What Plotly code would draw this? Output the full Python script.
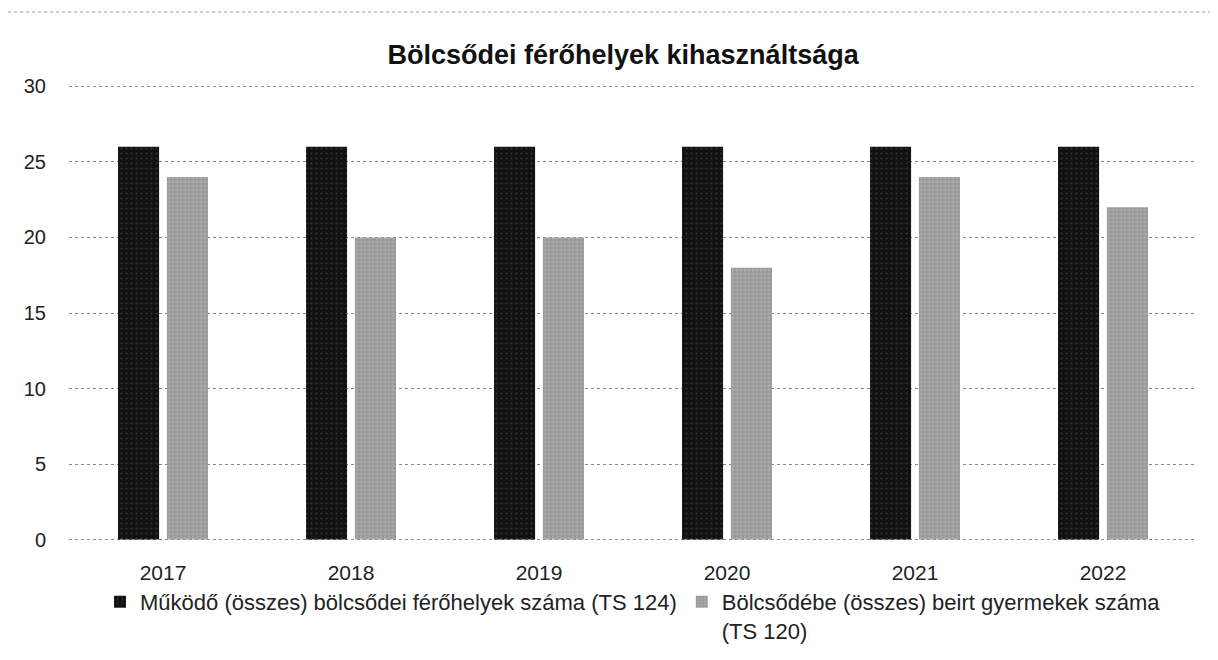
import plotly.graph_objects as go

years = ["2017", "2018", "2019", "2020", "2021", "2022"]
ferohely = [26, 26, 26, 26, 26, 26]
beirt = [24, 20, 20, 18, 24, 22]
name1 = "Működő (összes) bölcsődei férőhelyek száma (TS 124)"
name2 = "Bölcsődébe (összes) beirt gyermekek száma<br>(TS 120)"
title = "Bölcsődei férőhelyek kihasználtsága"
yticks = [0, 5, 10, 15, 20, 25, 30]

FONT = "Liberation Sans"

fig = go.Figure()
fig.add_trace(go.Bar(x=years, y=ferohely, name=name1,
                     marker=dict(color="#151515", line=dict(width=0),
                                 pattern=dict(shape=".", fgcolor="#555555", bgcolor="#111111", size=5, solidity=0.15))))
fig.add_trace(go.Bar(x=years, y=beirt, name=name2,
                     marker=dict(color="#959595", line=dict(width=0),
                                 pattern=dict(shape="+", fgcolor="#6e6e6e", bgcolor="#aaaaaa", size=4, solidity=0.35))))

edge_lines = [
    dict(type="line", xref="paper", yref="y", x0=0, x1=1, y0=v, y1=v, layer="below",
         line=dict(color="#888888", width=1, dash="dot"))
    for v in (yticks[0], yticks[-1])
]

fig.update_layout(
    width=1218, height=660,
    paper_bgcolor="white", plot_bgcolor="white",
    barmode="group", bargap=0.48, bargroupgap=0.16,
    margin=dict(l=61, r=29, t=78, b=128),
    title=dict(text="<b>" + title + "</b>", x=0.505, xanchor="center", y=0.929, yanchor="middle",
               font=dict(family=FONT, size=27, color="#111111")),
    font=dict(family=FONT, size=21, color="#222222"),
    showlegend=True,
    legend=dict(orientation="h", x=0.5, xanchor="center", y=-0.09, yanchor="top",
                font=dict(size=22, color="#222222"), itemwidth=30, traceorder="normal",
                valign="top"),
    shapes=[
        dict(type="line", xref="paper", yref="paper", x0=-0.054, x1=1.019, y0=1.163, y1=1.163,
             line=dict(color="#999999", width=1, dash="dot")),
    ] + edge_lines,
)
fig.update_yaxes(range=[-0.03, 30.03], tickvals=yticks, showgrid=True, gridcolor="#888888",
                 griddash="dot", gridwidth=1, zeroline=False, showline=False,
                 ticks="", ticklabelstandoff=22, tickfont=dict(size=20, color="#222222"))
fig.update_xaxes(showline=False, ticks="",
                 ticklabelstandoff=18, tickfont=dict(size=21, color="#222222"))

fig.write_html("out.html")
